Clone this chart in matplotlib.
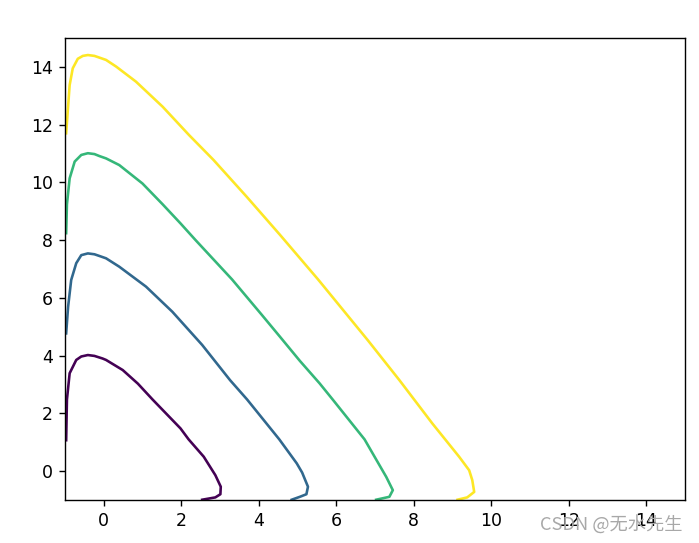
import matplotlib.pyplot as plt
import numpy as np

# contour lines (data coords), lowest level first
x1 = [-0.97, -0.95, -0.88, -0.71, -0.58, -0.41, -0.24, -0.03, 0.06, 0.49, 0.88, 1.26, 1.98, 2.19, 2.58, 2.88, 3.02, 3.01, 2.88, 2.54]
y1 = [1.07, 2.48, 3.39, 3.85, 3.97, 4.02, 3.99, 3.90, 3.85, 3.50, 3.03, 2.48, 1.48, 1.10, 0.50, -0.14, -0.54, -0.80, -0.91, -0.99]

x2 = [-0.97, -0.92, -0.84, -0.71, -0.58, -0.41, -0.24, -0.11, 0.06, 0.40, 1.09, 1.77, 2.54, 3.26, 3.70, 4.53, 4.98, 5.12, 5.27, 5.23, 5.06, 4.85]
y2 = [4.77, 5.69, 6.62, 7.20, 7.48, 7.54, 7.51, 7.45, 7.37, 7.08, 6.39, 5.52, 4.37, 3.15, 2.48, 1.10, 0.27, -0.05, -0.54, -0.80, -0.89, -0.99]

x3 = [-0.97, -0.95, -0.88, -0.75, -0.58, -0.41, -0.24, -0.11, 0.06, 0.40, 1.00, 1.52, 1.98, 2.37, 3.31, 4.08, 4.55, 5.06, 5.57, 5.92, 6.73, 7.29, 7.46, 7.37, 7.03]
y3 = [8.24, 9.24, 10.14, 10.72, 10.95, 11.01, 10.98, 10.91, 10.83, 10.60, 9.96, 9.24, 8.58, 8.00, 6.64, 5.41, 4.65, 3.82, 3.04, 2.46, 1.10, -0.20, -0.66, -0.89, -0.99]

x4 = [-0.97, -0.93, -0.88, -0.80, -0.67, -0.54, -0.41, -0.24, -0.11, 0.06, 0.32, 0.83, 1.52, 2.20, 2.83, 3.69, 4.55, 5.53, 6.81, 7.63, 8.48, 9.17, 9.43, 9.51, 9.56, 9.38, 9.13]
y4 = [11.70, 12.45, 13.37, 13.95, 14.28, 14.38, 14.41, 14.38, 14.32, 14.24, 14.01, 13.49, 12.62, 11.64, 10.78, 9.50, 8.18, 6.64, 4.54, 3.15, 1.65, 0.50, 0.03, -0.31, -0.72, -0.91, -0.99]

curves = [(x1, y1), (x2, y2), (x3, y3), (x4, y4)]
colors = plt.cm.viridis(np.linspace(0, 1, 4))

fig = plt.figure(figsize=(699 / 125, 543 / 125), dpi=125)
ax = fig.add_axes([65 / 699, 43 / 543, 620 / 699, 462 / 543])

for (xs, ys), c in zip(curves, colors):
    ax.plot(xs, ys, color=c, linewidth=1.5, solid_joinstyle='round')

ax.set_xlim(-1, 15)
ax.set_ylim(-1, 15)
ax.set_xticks(range(0, 15, 2))
ax.set_yticks(range(0, 15, 2))

# watermark
fig.text(683 / 699, 1 - 525 / 543, 'CSDN @无水先生', ha='right', va='center',
         color='#a8a8a8', fontsize=10.5, family=['Noto Sans CJK SC', 'DejaVu Sans'])

fig.savefig('out.png', dpi=125)
